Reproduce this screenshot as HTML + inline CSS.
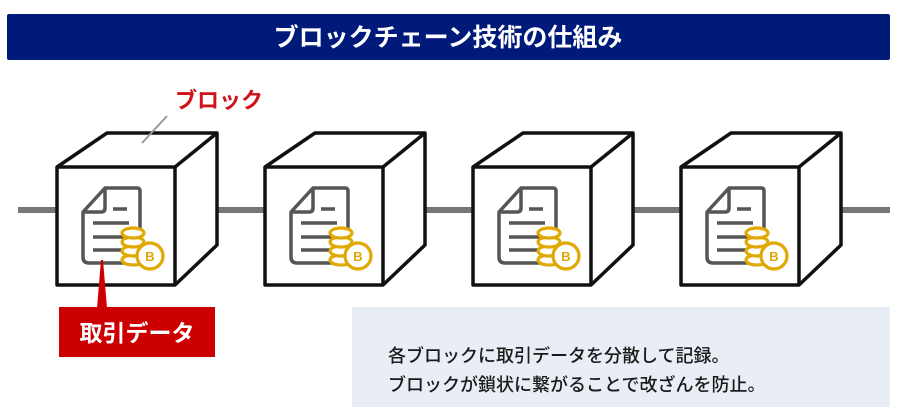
<!DOCTYPE html>
<html><head><meta charset="utf-8"><style>
body{margin:0;width:900px;height:407px;overflow:hidden;background:#fff;font-family:"Liberation Sans","Noto Sans CJK JP",sans-serif}
</style></head><body>
<svg width="900" height="407" viewBox="0 0 900 407" xmlns="http://www.w3.org/2000/svg" font-family="Liberation Sans, Noto Sans CJK JP, sans-serif">
<rect x="7" y="14" width="883" height="46" rx="2" fill="#001a7a"/>
<text x="448" y="46" text-anchor="middle" fill="#fff" font-size="25" font-weight="bold">ブロックチェーン技術の仕組み</text>
<g stroke="#777" stroke-width="6">
<line x1="18" y1="210" x2="57" y2="210"/>
<line x1="200" y1="210" x2="265" y2="210"/>
<line x1="408" y1="210" x2="473" y2="210"/>
<line x1="616" y1="210" x2="681" y2="210"/>
<line x1="824" y1="210" x2="890" y2="210"/>
</g>
<defs>
<g id="cube">
<path d="M0 34 L50 0 L160 0 L160 112 L118 152 L0 152 Z M0 34 L118 34 L160 0 M118 34 L118 152" fill="#fff" stroke="#111" stroke-width="3.5" stroke-linejoin="round"/>
<path d="M26 79 L48 55 L80 55 Q83 55 83 58 L83 130 L32 130 Q26 130 26 124 Z" fill="#fff" stroke="#555" stroke-width="3.5" stroke-linejoin="round"/>
<path d="M26 79 L44 79 Q48 79 48 75 L48 55" fill="none" stroke="#555" stroke-width="3.5"/>
<g stroke="#555" stroke-width="3.5">
<line x1="56" y1="76" x2="70" y2="76"/>
<line x1="36" y1="90" x2="72" y2="90"/>
<line x1="36" y1="104" x2="72" y2="104"/>
<line x1="36" y1="117" x2="72" y2="117"/>
</g>
<g fill="#fff" stroke="#e0a800" stroke-width="3.2">
<ellipse cx="76" cy="127" rx="11" ry="5"/>
<ellipse cx="76" cy="118" rx="11" ry="5"/>
<ellipse cx="76" cy="109" rx="11" ry="5"/>
<ellipse cx="76" cy="100" rx="11" ry="5"/>
<circle cx="93" cy="123" r="13"/>
</g>
<text x="93" y="128" text-anchor="middle" fill="#e0a800" font-size="13" font-weight="bold">B</text>
</g>
</defs>
<use href="#cube" x="57" y="133"/>
<use href="#cube" x="265" y="133"/>
<use href="#cube" x="473" y="133"/>
<use href="#cube" x="681" y="133"/>
<line x1="167" y1="116" x2="142" y2="143" stroke="#999" stroke-width="2"/>
<text x="175" y="108" fill="#d0121b" font-size="22" font-weight="bold">ブロック</text>
<path d="M101 260 L103 260 L107 308 L97 308 Z" fill="#cc0000"/>
<rect x="59" y="307" width="156" height="50" fill="#cc0000"/>
<text x="137" y="341" text-anchor="middle" fill="#fff" font-size="23" font-weight="bold">取引データ</text>
<rect x="352" y="307" width="538" height="100" fill="#e9edf5"/>
<text x="388" y="362" fill="#1a1a1a" font-size="18" font-weight="500">各ブロックに取引データを分散して記録。</text>
<text x="388" y="391" fill="#1a1a1a" font-size="18" font-weight="500">ブロックが鎖状に繋がることで改ざんを防止。</text>
</svg>
</body></html>
